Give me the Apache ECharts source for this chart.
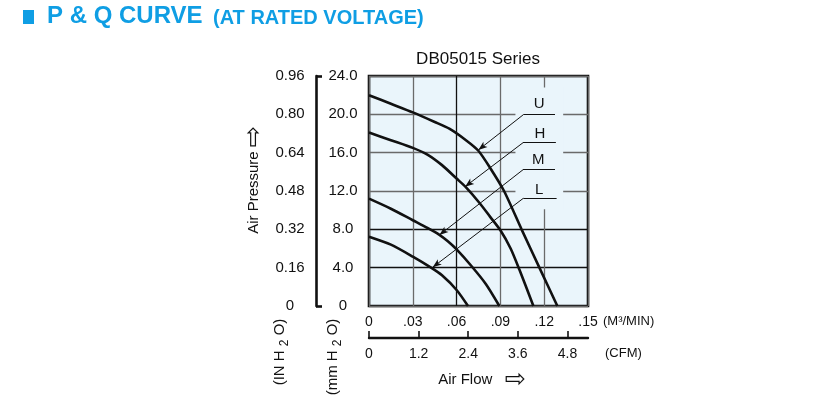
<!DOCTYPE html>
<html>
<head>
<meta charset="utf-8">
<script src="https://cdn.jsdelivr.net/npm/echarts@6/dist/echarts.min.js"></script>
<style>
  html, body { margin: 0; padding: 0; background: #fff; }
  #pq-curve { width: 840px; height: 409px; }
</style>
</head>
<body>
<div id="pq-curve"></div>
<script>
// ______Data (air flow in m3/min, pressure in mm H2O)
var flowU = [0, 0.015, 0.03, 0.045, 0.055, 0.0664, 0.0749, 0.083, 0.0925, 0.1045, 0.1167, 0.129];
var pressU = [22.0, 21.1, 20.2, 19.2, 18.5, 17.3, 16.2, 14.4, 12.0, 8.0, 4.0, 0];

var flowH = [0, 0.015, 0.03, 0.04, 0.05, 0.06, 0.066, 0.076, 0.083, 0.09, 0.097, 0.103, 0.1126];
var pressH = [18.1, 17.3, 16.5, 15.8, 14.7, 13.3, 12.45, 10.7, 9.3, 7.9, 6.0, 3.8, 0];

var flowM = [0, 0.015, 0.03, 0.04, 0.048, 0.054, 0.06, 0.07, 0.08, 0.0893];
var pressM = [11.2, 10.15, 8.95, 8.15, 7.45, 6.75, 5.9, 4.2, 2.3, 0];

var flowL = [0, 0.015, 0.03, 0.0425, 0.05, 0.06, 0.0678];
var pressL = [7.23, 6.4, 5.15, 4.0, 3.2, 1.67, 0];

var speedNames = ['U', 'H', 'M', 'L'];

// ______Tick labels
var flowTicks = [0, 0.03, 0.06, 0.09, 0.12, 0.15];
var cfmTicks = [0, 1.2, 2.4, 3.6, 4.8];
var mmTicks = [0, 4, 8, 12, 16, 20, 24];
var inchTicks = [0, 0.16, 0.32, 0.48, 0.64, 0.80, 0.96];

var FONT = '"Liberation Sans", Arial, sans-serif';
var INK = '#111';
var BLUE = '#0f9ee4';

function zip(xs, ys) {
	return xs.map(function (x, i) { return [x, ys[i]]; });
}

// label callouts, in data coordinates: label, leader (x1, x2, y), arrow tip
var callouts = {
	U: { text: [0.1166, 21.1], leader: [0.1057, 0.1274, 19.96], tip: [0.0749, 16.28] },
	H: { text: [0.1171, 18.0], leader: [0.1055, 0.1280, 17.04], tip: [0.0658, 12.45] },
	M: { text: [0.1160, 15.2], leader: [0.1055, 0.1274, 14.22], tip: [0.0482, 7.41] },
	L: { text: [0.1166, 12.1], leader: [0.1057, 0.1285, 11.24], tip: [0.0436, 4.04] }
};

var curves = { U: zip(flowU, pressU), H: zip(flowH, pressH), M: zip(flowM, pressM), L: zip(flowL, pressL) };

var series = speedNames.map(function (name) {
	var c = callouts[name];
	return {
		name: name,
		type: 'line',
		data: curves[name],
		smooth: 0.25,
		symbol: 'none',
		z: 3,
		lineStyle: { color: INK, width: 2.6 },
		markLine: {
			silent: true,
			symbol: ['none', 'arrow'],
			symbolSize: [5, 9],
			lineStyle: { color: INK, width: 1, type: 'solid' },
			label: { show: false },
			data: [
				[{ coord: [c.leader[1], c.leader[2]], symbol: 'none' }, { coord: [c.leader[0], c.leader[2]], symbol: 'none' }],
				[{ coord: [c.leader[0], c.leader[2]] }, { coord: c.tip }]
			]
		},
		markPoint: {
			silent: true,
			symbol: 'circle',
			symbolSize: 1,
			itemStyle: { color: 'rgba(0,0,0,0)' },
			label: { show: true, position: 'inside', formatter: name, color: INK, fontSize: 15, fontFamily: FONT },
			data: [{ coord: c.text }]
		}
	};
});

// gap in the grid behind the callout labels
series.unshift({
	type: 'line',
	data: [],
	z: 1,
	silent: true,
	markArea: {
		silent: true,
		itemStyle: { color: '#eaf5fb' },
		data: [[{ coord: [0.1003, 10.1] }, { coord: [0.1330, 22.8] }]]
	}
});

var subRich = {
	t: { fontFamily: FONT, fontSize: 15, lineHeight: 21, fill: INK },
	s: { fontFamily: FONT, fontSize: 12, verticalAlign: 'bottom', fill: INK }
};
var arrowRich = {
	t: { fontFamily: FONT, fontSize: 15, fill: INK },
	a: { fontFamily: 'DejaVu Sans', fontSize: 25, fill: INK }
};

var chart = echarts.init(document.getElementById('pq-curve'));

var option = {
	animation: false,
	backgroundColor: '#fff',
	textStyle: { fontFamily: FONT },
	grid: {
		left: 369,
		right: 252,
		top: 76,
		bottom: 103,
		show: true,
		backgroundColor: '#eaf5fb',
		borderColor: INK,
		borderWidth: 2.6
	},
	xAxis: [
		{
			type: 'value',
			min: flowTicks[0],
			max: flowTicks[flowTicks.length - 1],
			interval: 0.03,
			axisLine: { show: false, onZero: false },
			axisTick: { show: false },
			axisLabel: {
				margin: 9,
				fontSize: 14,
				color: INK,
				fontFamily: FONT,
				formatter: function (v) { return v === 0 ? '0' : '.' + v.toFixed(2).slice(2); }
			},
			splitLine: { show: true, lineStyle: { color: ['#6a6a6a', '#6a6a6a', '#111', '#6a6a6a', '#6a6a6a', '#6a6a6a'], width: 1.3 } }
		},
		{
			type: 'value',
			position: 'bottom',
			offset: 32,
			min: 0,
			max: 0.15 * 35.3147,
			axisLine: { show: true, onZero: false, lineStyle: { color: INK, width: 2.4 } },
			axisTick: { show: true, inside: true, length: 7, customValues: cfmTicks, lineStyle: { color: INK, width: 1.6 } },
			axisLabel: {
				margin: 9,
				fontSize: 14,
				color: INK,
				fontFamily: FONT,
				customValues: cfmTicks,
				formatter: function (v) { return v === 0 ? '0' : v.toFixed(1); }
			},
			splitLine: { show: false }
		}
	],
	yAxis: [
		{
			type: 'value',
			min: mmTicks[0],
			max: mmTicks[mmTicks.length - 1],
			interval: 4,
			axisLine: { show: false, onZero: false },
			axisTick: { show: false },
			axisLabel: {
				margin: 26,
				align: 'center',
				fontSize: 15,
				color: INK,
				fontFamily: FONT,
				formatter: function (v) { return v === 0 ? '0' : v.toFixed(1); }
			},
			splitLine: { show: true, lineStyle: { color: ['#6a6a6a', '#111', '#111', '#6a6a6a', '#6a6a6a', '#6a6a6a', '#6a6a6a'], width: 1.3 } }
		},
		{
			type: 'value',
			position: 'left',
			offset: 53,
			min: inchTicks[0],
			max: inchTicks[inchTicks.length - 1],
			interval: 0.16,
			axisLine: { show: true, onZero: false, lineStyle: { color: INK, width: 2.6 } },
			axisTick: { show: true, inside: true, length: 6, customValues: [0, 0.96], lineStyle: { color: INK, width: 2.6 } },
			axisLabel: {
				margin: 26,
				align: 'center',
				fontSize: 15,
				color: INK,
				fontFamily: FONT,
				formatter: function (v) { return v === 0 ? '0' : v.toFixed(2); }
			},
			splitLine: { show: false }
		}
	],
	graphic: [
		{ type: 'rect', shape: { x: 23, y: 10, width: 11, height: 14 }, style: { fill: BLUE } },
		{ type: 'text', x: 47, y: 28, style: { text: 'P & Q CURVE', font: 'bold 24px ' + FONT, fill: BLUE, textVerticalAlign: 'bottom' } },
		{ type: 'text', x: 213, y: 28, style: { text: '(AT RATED VOLTAGE)', font: 'bold 20px ' + FONT, fill: BLUE, textVerticalAlign: 'bottom' } },
		{ type: 'text', x: 478, y: 59, style: { text: 'DB05015 Series', font: '17px ' + FONT, fill: INK, textAlign: 'center', textVerticalAlign: 'middle' } },
		{ type: 'text', x: 603, y: 321, style: { text: '(M³/MIN)', font: '13px ' + FONT, fill: INK, textVerticalAlign: 'middle' } },
		{ type: 'text', x: 605, y: 353, style: { text: '(CFM)', font: '13px ' + FONT, fill: INK, textVerticalAlign: 'middle' } },
		{
			type: 'text', x: 482, y: 380,
			style: { text: '{t|Air Flow   }{a|⇨}', textAlign: 'center', textVerticalAlign: 'middle', rich: arrowRich }
		},
		{
			type: 'text', x: 254, y: 180, rotation: Math.PI / 2,
			style: { text: '{t|Air Pressure }{a|⇨}', textAlign: 'center', textVerticalAlign: 'middle', rich: arrowRich }
		},
		{
			type: 'text', x: 280, y: 352, rotation: Math.PI / 2,
			style: { text: '{t|(IN H }{s|2}{t| O)}', textAlign: 'center', textVerticalAlign: 'middle', rich: subRich }
		},
		{
			type: 'text', x: 333, y: 357, rotation: Math.PI / 2,
			style: { text: '{t|(mm H }{s|2}{t| O)}', textAlign: 'center', textVerticalAlign: 'middle', rich: subRich }
		}
	],
	series: series
};

chart.setOption(option);
</script>
</body>
</html>
